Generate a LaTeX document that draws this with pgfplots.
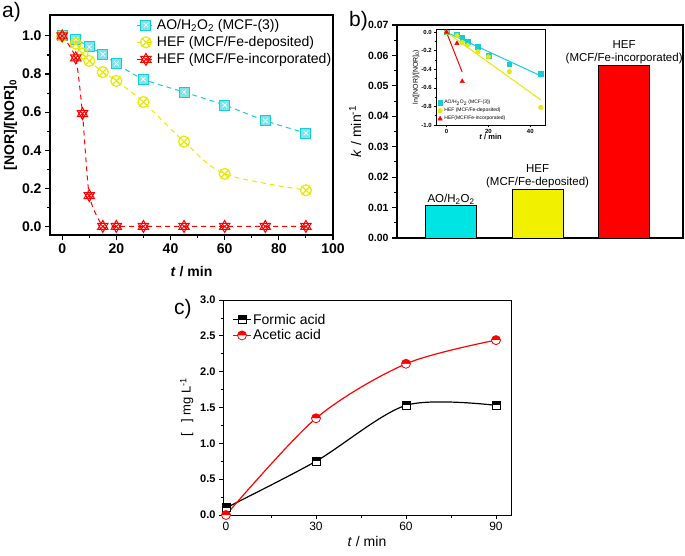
\documentclass[border=0pt]{standalone}
\usepackage{fontspec}
\setmainfont{Liberation Sans}
\usepackage{pgfplots}
\pgfplotsset{compat=1.18}
\usetikzlibrary{plotmarks}

\definecolor{mcyan}{RGB}{20,205,215}
\definecolor{bcyan}{RGB}{0,228,228}
\definecolor{myellow}{RGB}{232,232,0}
\definecolor{byellow}{RGB}{240,240,0}
\definecolor{mred}{RGB}{255,0,0}

\pgfdeclareplotmark{sqx}{%
  \pgfpathrectangle{\pgfqpoint{-\pgfplotmarksize}{-\pgfplotmarksize}}{\pgfqpoint{2\pgfplotmarksize}{2\pgfplotmarksize}}%
  \pgfusepathqfillstroke
  \begin{pgfscope}
  \pgfsetstrokecolor{white}\pgfsetlinewidth{0.7pt}%
  \pgfpathmoveto{\pgfqpoint{-0.45\pgfplotmarksize}{-0.45\pgfplotmarksize}}%
  \pgfpathlineto{\pgfqpoint{0.45\pgfplotmarksize}{0.45\pgfplotmarksize}}%
  \pgfpathmoveto{\pgfqpoint{-0.45\pgfplotmarksize}{0.45\pgfplotmarksize}}%
  \pgfpathlineto{\pgfqpoint{0.45\pgfplotmarksize}{-0.45\pgfplotmarksize}}%
  \pgfusepathqstroke
  \end{pgfscope}}
\pgfdeclareplotmark{hexx}{%
  \pgfpathmoveto{\pgfqpointpolar{90}{\pgfplotmarksize}}%
  \pgfpathlineto{\pgfqpointpolar{210}{\pgfplotmarksize}}%
  \pgfpathlineto{\pgfqpointpolar{330}{\pgfplotmarksize}}%
  \pgfpathclose
  \pgfpathmoveto{\pgfqpointpolar{270}{\pgfplotmarksize}}%
  \pgfpathlineto{\pgfqpointpolar{30}{\pgfplotmarksize}}%
  \pgfpathlineto{\pgfqpointpolar{150}{\pgfplotmarksize}}%
  \pgfpathclose
  \pgfpathmoveto{\pgfqpointpolar{135}{0.6\pgfplotmarksize}}%
  \pgfpathlineto{\pgfqpointpolar{315}{0.6\pgfplotmarksize}}%
  \pgfpathmoveto{\pgfqpointpolar{45}{0.6\pgfplotmarksize}}%
  \pgfpathlineto{\pgfqpointpolar{225}{0.6\pgfplotmarksize}}%
  \pgfusepathqstroke}
% half-filled square: top half filled, bottom half white
\pgfdeclareplotmark{hsq}{%
  \pgfpathrectangle{\pgfqpoint{-\pgfplotmarksize}{0pt}}{\pgfqpoint{2\pgfplotmarksize}{\pgfplotmarksize}}%
  \pgfusepathqfill
  \begin{pgfscope}\pgfsetfillcolor{white}%
  \pgfpathrectangle{\pgfqpoint{-\pgfplotmarksize}{-\pgfplotmarksize}}{\pgfqpoint{2\pgfplotmarksize}{\pgfplotmarksize}}%
  \pgfusepathqfill
  \end{pgfscope}%
  \pgfpathrectangle{\pgfqpoint{-\pgfplotmarksize}{-\pgfplotmarksize}}{\pgfqpoint{2\pgfplotmarksize}{2\pgfplotmarksize}}%
  \pgfusepathqstroke}
% half-filled circle: top half filled, bottom half white
\pgfdeclareplotmark{hci}{%
  \pgfpathmoveto{\pgfqpoint{\pgfplotmarksize}{0pt}}%
  \pgfpatharc{0}{180}{\pgfplotmarksize}%
  \pgfpathclose
  \pgfusepathqfill
  \begin{pgfscope}\pgfsetfillcolor{white}%
  \pgfpathmoveto{\pgfqpoint{-\pgfplotmarksize}{0pt}}%
  \pgfpatharc{180}{360}{\pgfplotmarksize}%
  \pgfpathclose
  \pgfusepathqfill
  \end{pgfscope}%
  \pgfpathcircle{\pgfpointorigin}{\pgfplotmarksize}%
  \pgfusepathqstroke}

\begin{document}
\begin{tikzpicture}[x=1pt,y=1pt]
\path[use as bounding box] (0,0) rectangle (685,555);

% ---------------- panel a ----------------
\begin{axis}[
  at={(50pt,320pt)}, anchor=south west, scale only axis,
  width=283pt, height=220pt,
  xmin=-4.5, xmax=100, ymin=-0.045, ymax=1.11,
  xtick={0,20,40,60,80,100}, ytick={0,0.2,0.4,0.6,0.8,1.0},
  minor x tick num=1, minor y tick num=1,
  tick align=outside, tick pos=left,
  major tick length=5pt, minor tick length=3pt,
  axis line style={line width=1.2pt},
  every tick/.style={line width=1.1pt, black},
  ticklabel style={font=\fontsize{14}{14}\selectfont\bfseries},
  /pgf/number format/assume math mode=true,
  yticklabel style={/pgf/number format/.cd,fixed,fixed zerofill,precision=1},
  xlabel={\textit{t} / min}, ylabel={[NOR]/[NOR]\textsubscript{0}},
  label style={font=\fontsize{14}{14}\selectfont\bfseries},
  xlabel style={yshift=-6pt},
  ylabel style={yshift=-2pt},
  legend style={at={(rel axis cs:1.005,0.995)}, anchor=north east, draw=none, fill=none,
    font=\fontsize{14}{14}\selectfont, row sep=1.5pt, inner sep=1pt},
  legend cell align=left,
]
\addplot[mcyan, line width=1pt, dash pattern=on 5pt off 4pt, smooth,
  mark=sqx, mark size=5pt, mark options={solid, fill=mcyan!55, draw=mcyan, line width=1pt}]
  coordinates {(0,1.0)(5,0.983)(10,0.942)(15,0.904)(20,0.855)(30,0.773)(45,0.705)(60,0.637)(75,0.555)(90,0.49)};
\addlegendentry{AO/H\textsubscript{2}O\textsubscript{2} (MCF-(3))}
\addplot[myellow, line width=1pt, dash pattern=on 5pt off 4pt, smooth,
  mark=otimes, mark size=5.5pt, mark options={solid, fill=myellow!25, draw=myellow, line width=1.2pt}]
  coordinates {(0,1.0)(5,0.96)(7.5,0.908)(10,0.869)(15,0.81)(20,0.764)(30,0.653)(45,0.445)(60,0.276)(90,0.19)};
\addlegendentry{HEF (MCF/Fe-deposited)}
\addplot[mred, line width=1pt, dash pattern=on 5pt off 4pt, smooth, tension=0.35,
  mark=hexx, mark size=6pt, mark options={solid, draw=mred, line width=1pt}]
  coordinates {(0,1.0)(5,0.885)(7.5,0.592)(10,0.162)(15,0)(20,0)(30,0)(45,0)(60,0)(75,0)(90,0)};
\addlegendentry{HEF (MCF/Fe-incorporated)}
\end{axis}

% ---------------- panel b ----------------
\begin{axis}[
  at={(397pt,317pt)}, anchor=south west, scale only axis,
  width=286pt, height=213pt,
  xmin=0.376, xmax=3.68, ymin=0, ymax=0.07,
  xtick=\empty, ytick={0,0.01,0.02,0.03,0.04,0.05,0.06,0.07},
  minor y tick num=1, scaled y ticks=false,
  tick align=outside, tick pos=left,
  major tick length=5pt, minor tick length=3pt,
  axis line style={line width=1.2pt},
  every tick/.style={line width=1.1pt, black},
  ticklabel style={font=\fontsize{10.5}{10.5}\selectfont\bfseries},
  /pgf/number format/assume math mode=true,
  yticklabel style={/pgf/number format/.cd,fixed,fixed zerofill,precision=2},
  ylabel={\textit{k} / min\textsuperscript{-1}},
  label style={font=\fontsize{14}{14}\selectfont},
  ybar, bar width=51pt,
]
\addplot[draw=black, fill=bcyan, line width=0.8pt, bar shift=0pt] coordinates {(1,0.0106)};
\addplot[draw=black, fill=byellow, line width=0.8pt, bar shift=0pt] coordinates {(2,0.0161)};
\addplot[draw=black, fill=mred, line width=0.8pt, bar shift=0pt] coordinates {(3,0.0568)};
\node[anchor=south, inner sep=1.5pt, align=center, font=\fontsize{11.5}{13}\selectfont] at (axis cs:1,0.0106) {AO/H\textsubscript{2}O\textsubscript{2}};
\node[anchor=south, inner sep=1pt, align=center, font=\fontsize{11.5}{13}\selectfont] at (axis cs:2,0.0161) {HEF\\(MCF/Fe-deposited)};
\node[anchor=south, inner sep=1pt, align=center, font=\fontsize{11.5}{13}\selectfont] at (axis cs:3,0.0568) {HEF\\(MCF/Fe-incorporated)};
\end{axis}

% ---------------- inset ----------------
\begin{axis}[
  at={(436pt,430pt)}, anchor=south west, scale only axis,
  width=109pt, height=96pt,
  xmin=-5, xmax=47, ymin=-1.0, ymax=0.035,
  xtick={0,20,40}, ytick={-1,-0.8,-0.6,-0.4,-0.2,0},
  minor x tick num=1, minor y tick num=1,
  tick align=outside, tick pos=left,
  major tick length=2.5pt, minor tick length=1.5pt,
  axis line style={line width=0.9pt},
  every tick/.style={line width=0.7pt, black},
  axis background/.style={fill=white},
  ticklabel style={font=\fontsize{6}{6}\selectfont\bfseries, inner sep=1.5pt},
  /pgf/number format/assume math mode=true,
  yticklabel style={/pgf/number format/.cd,fixed,fixed zerofill,precision=1},
  xlabel={\textit{t} / min}, ylabel={ln([NOR]/[NOR]\textsubscript{0})},
  xlabel style={font=\fontsize{7.5}{7.5}\selectfont\bfseries, yshift=4pt},
  ylabel style={font=\fontsize{7}{7}\selectfont, yshift=-3pt},
  legend style={at={(rel axis cs:0.01,0.01)}, anchor=south west, draw=none, fill=none,
    font=\fontsize{5}{5}\selectfont, row sep=-1pt, inner sep=0.5pt},
  legend cell align=left,
]
\addplot[only marks, mark=square*, mark size=2.3pt, mcyan] coordinates {(0,0)(5,-0.02)(7.5,-0.06)(10,-0.10)(15,-0.156)(20,-0.254)(30,-0.344)(45,-0.446)};
\addlegendentry{AO/H\textsubscript{2}O\textsubscript{2} (MCF-(3))}
\addplot[only marks, mark=*, mark size=2.3pt, myellow] coordinates {(0,0)(5,-0.036)(7.5,-0.11)(10,-0.14)(15,-0.21)(20,-0.265)(30,-0.424)(45,-0.81)};
\addlegendentry{HEF (MCF/Fe-deposited)}
\addplot[only marks, mark=triangle*, mark size=2.6pt, mred] coordinates {(0,0)(5,-0.12)(7.5,-0.53)};
\addlegendentry{HEF(MCF/Fe-incorporated)}
\addplot[mcyan, line width=1pt, forget plot] coordinates {(0,0)(45,-0.47)};
\addplot[myellow, line width=1pt, forget plot] coordinates {(0,0)(45,-0.73)};
\addplot[mred, line width=1pt, forget plot] coordinates {(0,0)(7.5,-0.43)};
\end{axis}

% ---------------- panel c ----------------
\begin{axis}[
  at={(223pt,40pt)}, anchor=south west, scale only axis,
  width=288pt, height=215pt,
  xmin=-1, xmax=95, ymin=0, ymax=3,
  xtick={0,30,60,90}, ytick={0,0.5,1,1.5,2,2.5,3},
  minor x tick num=1, minor y tick num=1,
  tick align=outside, tick pos=left,
  major tick length=4pt, minor tick length=2.5pt,
  axis line style={line width=0.9pt},
  every tick/.style={line width=0.8pt, black},
  /pgf/number format/assume math mode=true,
  xticklabel style={font=\fontsize{12}{12}\selectfont},
  yticklabel style={font=\fontsize{11}{11}\selectfont\bfseries, /pgf/number format/.cd,fixed,fixed zerofill,precision=1},
  xlabel={\textit{t} / min}, ylabel={[\hspace{0.8em}] mg L\textsuperscript{-1}},
  xlabel style={font=\fontsize{14}{14}\selectfont, yshift=2pt},
  ylabel style={font=\fontsize{13}{13}\selectfont},
  legend style={at={(rel axis cs:0.03,0.95)}, anchor=north west, draw=none, fill=none,
    font=\fontsize{14}{14}\selectfont, row sep=0pt, inner sep=1pt},
  legend cell align=left,
]
\addplot[black, line width=1.2pt, smooth, mark=hsq, mark size=4pt,
  mark options={fill=black, draw=black, line width=0.8pt}]
  coordinates {(0,0.1)(30,0.75)(60,1.53)(90,1.53)};
\addlegendentry{Formic acid}
\addplot[mred, line width=1.2pt, smooth, mark=hci, mark size=4.5pt,
  mark options={fill=mred, draw=mred, line width=0.8pt}]
  coordinates {(0,0)(30,1.35)(60,2.11)(90,2.44)};
\addlegendentry{Acetic acid}
\end{axis}

% panel labels
\node[anchor=north west, inner sep=0pt, font=\fontsize{21}{21}\selectfont] at (2,553) {a)};
\node[anchor=north west, inner sep=0pt, font=\fontsize{21}{21}\selectfont] at (349,544) {b)};
\node[anchor=north west, inner sep=0pt, font=\fontsize{21}{21}\selectfont] at (174,256) {c)};
\end{tikzpicture}
\end{document}
